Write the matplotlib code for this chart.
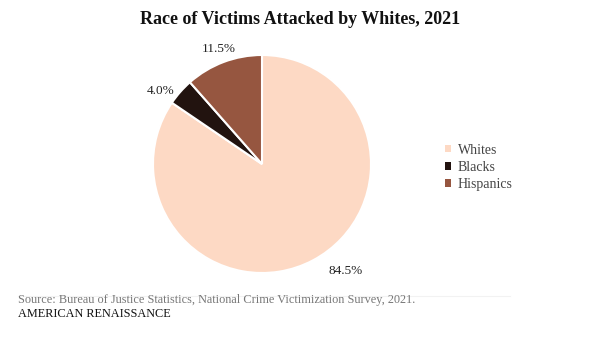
import matplotlib
matplotlib.use("Agg")
import matplotlib.pyplot as plt
from matplotlib.patches import Patch

# data
labels = ["Whites", "Blacks", "Hispanics"]
shares = [84.5, 4.0, 11.5]
colors = ["#fdd9c4", "#22130f", "#965640"]

serif = ["Liberation Serif", "DejaVu Serif"]

fig = plt.figure(figsize=(6.0, 3.38), dpi=100)
ax = fig.add_axes([152 / 600, 65 / 338, 220 / 600, 218 / 338])

wedges, texts, autotexts = ax.pie(
    shares, colors=colors, startangle=90, counterclock=False,
    autopct="%.1f%%", pctdistance=1.13,
    wedgeprops=dict(edgecolor="white", linewidth=1.5),
    textprops=dict(fontsize=9.5, family=serif, color="#222222"),
)
ax.set_xlim(-1, 1)
ax.set_ylim(-1, 1)
ax.set_aspect("equal")

# the big-slice label sits further round toward the lower right
autotexts[0].set_position((0.77, -0.98))
autotexts[1].set_position((-0.93, 0.67))

fig.text(0.5, 0.942, "Race of Victims Attacked by Whites, 2021",
         ha="center", va="center", fontsize=13, fontweight="bold",
         family=serif, color="#111111")

handles = [Patch(facecolor=c, edgecolor="none") for c in colors]
fig.legend(handles, labels, loc="center left", bbox_to_anchor=(0.72, 0.505),
           frameon=False, handlelength=0.45, handleheight=0.45,
           handletextpad=0.5, labelspacing=0.3,
           prop=dict(family=serif, size=10), labelcolor="#444444")

fig.add_artist(plt.Line2D([0.03, 0.85], [0.125, 0.125], transform=fig.transFigure,
                          color="#f2f2f2", linewidth=0.8))

fig.text(0.03, 0.113,
         "Source: Bureau of Justice Statistics, National Crime Victimization Survey, 2021.",
         ha="left", va="center", fontsize=8.85, family=serif, color="#777777")
fig.text(0.03, 0.072, "AMERICAN RENAISSANCE",
         ha="left", va="center", fontsize=8.8, family=serif, color="#111111")

fig.savefig("out.png", dpi=100, facecolor="white")
